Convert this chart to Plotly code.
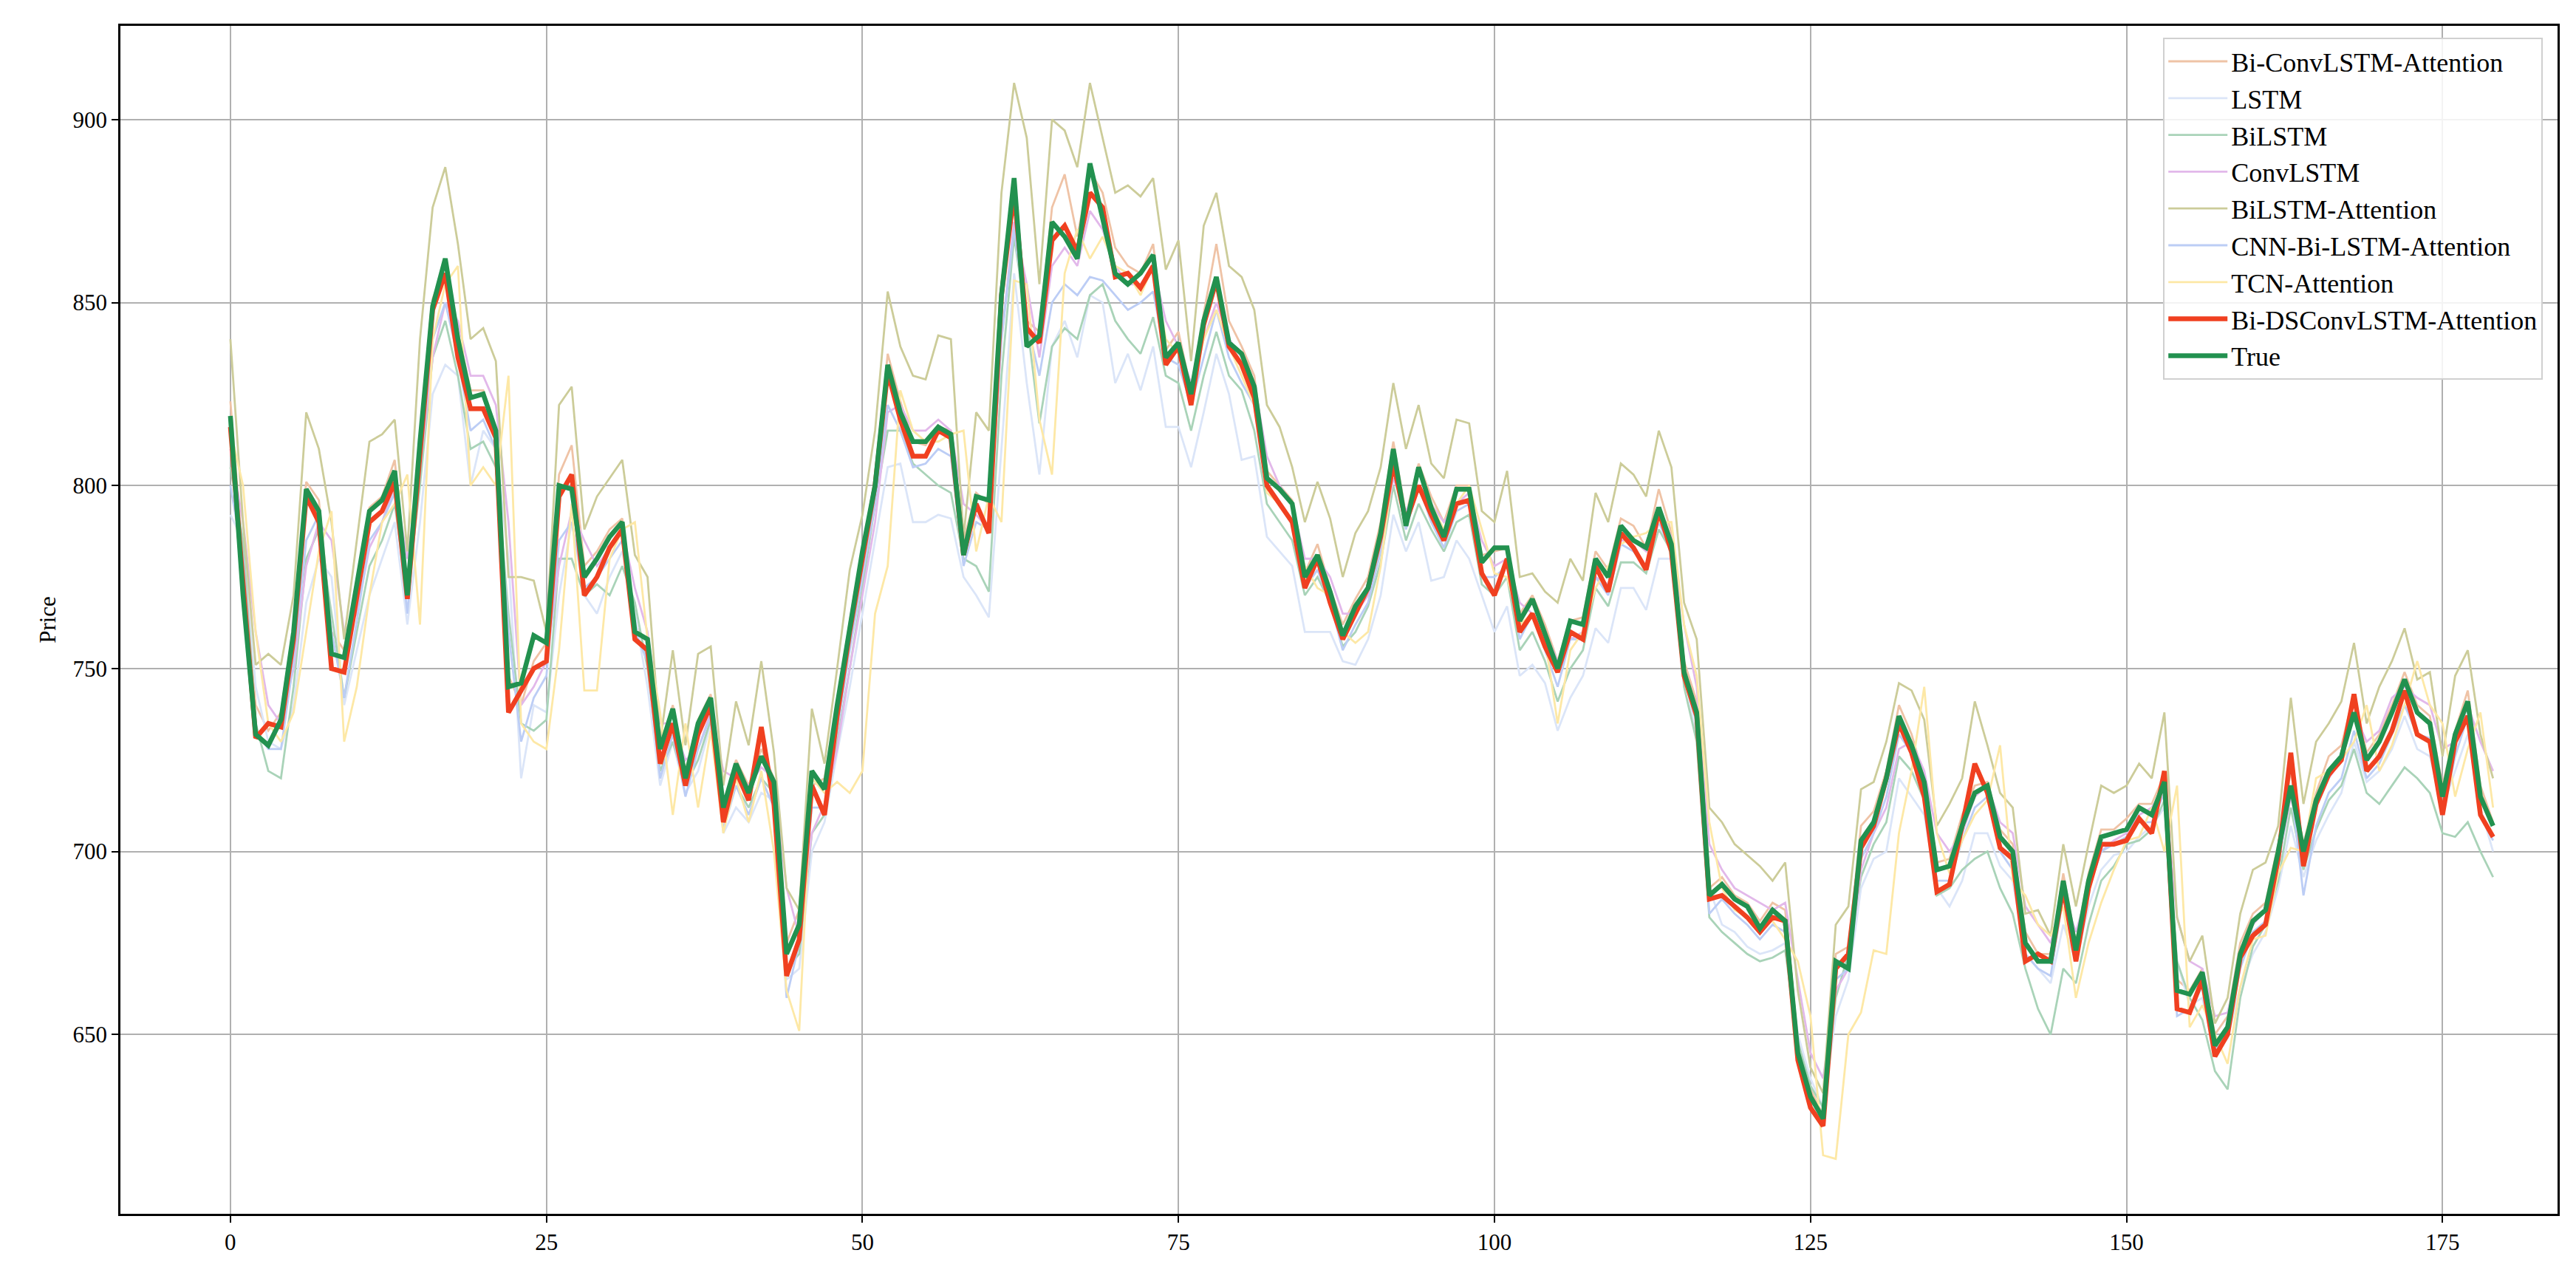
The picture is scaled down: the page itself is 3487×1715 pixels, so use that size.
import plotly.graph_objects as go

steps = list(range(180))

true_vals = [819,770,732,729,736,760,799,793,754,753,773,793,796,804,770,812,849,862,840,824,
             825,815,745,746,759,757,800,799,775,780,786,790,760,758,728,739,720,735,742,712,
             724,716,726,719,672,680,722,717,740,762,782,800,833,820,812,812,816,814,781,797,
             796,852,884,838,841,872,868,862,888,873,858,855,858,863,835,839,825,845,857,839,
             836,827,802,799,795,775,781,771,759,767,772,787,810,789,805,794,786,799,799,779,
             783,783,763,769,759,750,763,762,780,775,789,785,783,794,784,749,738,688,691,687,
             685,679,684,681,645,633,627,670,668,703,708,720,737,729,719,695,696,707,716,718,
             704,700,675,670,670,692,673,692,704,705,706,712,710,719,662,661,667,647,652,672,
             681,684,700,718,700,714,722,726,738,725,730,738,747,738,735,715,732,741,715,707]

bids_vals = [816,772,731,735,734,758,797,790,750,749,770,790,793,801,769,808,848,858,835,821,
             821,813,738,744,750,752,797,803,770,775,783,788,758,755,724,735,718,732,740,708,
             722,714,734,713,666,676,718,710,737,760,780,800,831,818,808,808,815,813,781,795,
             787,852,880,843,839,867,871,864,880,876,857,858,854,860,833,838,822,844,856,838,
             833,824,800,795,790,772,780,768,758,765,772,786,806,790,800,792,785,795,796,776,
             770,780,760,765,756,749,760,758,778,771,787,783,777,793,782,748,737,687,688,685,
             682,678,682,681,643,630,625,668,672,701,707,720,735,727,715,689,691,707,724,716,
             701,698,670,672,670,690,670,690,702,702,703,709,705,722,657,656,665,644,650,671,
             677,680,698,727,696,713,721,725,743,722,726,733,744,732,730,710,730,737,710,704]

biconv_attn = [823,780,740,733,738,762,801,796,760,755,774,794,797,807,772,813,851,860,842,826,
               826,815,748,740,752,757,803,811,778,782,788,791,762,757,728,740,722,736,743,712,
               725,718,728,720,675,684,718,720,741,763,783,801,836,823,812,811,816,815,785,798,
               795,855,882,845,842,876,885,868,886,880,865,860,858,866,837,842,826,847,866,845,
               838,830,804,800,796,776,784,772,762,769,775,790,812,792,806,797,790,800,800,781,
               782,783,765,770,762,752,763,764,782,777,791,789,783,799,787,752,741,690,693,688,
               686,681,686,684,648,635,628,672,674,707,711,722,740,732,720,697,698,710,718,719,
               706,702,678,672,672,694,675,694,706,706,709,713,713,721,665,662,668,650,655,675,
               683,686,702,722,702,716,726,729,743,727,732,740,749,740,737,718,733,744,718,708]

lstm = [792,785,745,730,728,740,768,780,775,740,755,770,780,790,762,790,825,833,830,800,
        815,810,780,720,740,738,770,790,770,765,775,782,765,745,718,730,716,722,735,705,
        712,708,716,714,665,668,700,708,727,745,765,785,805,806,790,790,792,791,775,770,
        764,810,858,828,803,838,845,835,852,850,828,836,826,838,816,816,805,820,836,825,
        807,808,786,782,778,760,760,760,752,751,758,770,792,782,790,774,775,785,780,770,
        760,767,748,751,746,733,742,748,761,757,772,772,766,780,780,750,730,690,680,678,
        674,672,673,675,650,638,630,655,665,690,698,700,720,715,710,690,685,692,705,705,
        696,692,672,668,664,680,670,685,695,699,700,704,707,712,670,658,660,645,649,663,
        672,678,690,707,693,703,710,716,730,719,722,728,737,728,726,712,722,732,712,700]

bilstm = [805,785,735,722,720,745,780,788,765,742,760,778,785,795,770,800,835,845,830,810,
          812,805,765,735,733,736,780,780,770,773,770,778,768,750,722,730,718,725,736,708,
          718,712,720,716,668,672,705,710,730,750,772,795,815,815,806,803,800,798,780,778,
          771,830,868,845,817,838,843,840,852,855,845,840,836,846,830,828,815,830,842,830,
          826,815,795,790,785,770,775,768,756,760,767,779,800,785,795,788,782,790,792,773,
          770,775,755,760,752,741,750,755,772,767,779,779,776,788,782,745,730,682,678,675,
          672,670,671,673,648,636,630,660,672,693,702,708,726,722,714,688,690,695,698,700,
          690,683,668,657,650,668,664,680,692,696,702,703,706,714,670,660,654,640,635,660,
          674,680,692,712,695,706,714,718,728,716,713,718,723,720,716,705,704,708,700,693]

convlstm = [810,790,760,740,735,750,778,790,785,760,765,783,790,800,780,805,835,850,845,830,
            830,822,790,740,745,752,778,793,785,778,783,788,772,760,735,735,725,728,738,722,
            720,718,723,720,690,677,705,713,728,750,770,790,820,822,815,815,818,815,795,792,
            788,840,872,855,835,860,865,860,875,870,860,855,855,860,845,838,828,840,850,840,
            835,828,808,800,795,780,780,775,765,765,770,783,802,793,800,795,790,795,798,785,
            778,780,768,765,760,752,758,760,775,773,785,785,782,792,786,762,745,702,695,690,
            688,686,684,686,665,645,638,662,668,695,705,712,728,730,722,705,700,705,715,718,
            708,705,685,680,675,688,678,690,700,703,705,710,712,717,682,670,668,655,656,670,
            680,684,697,715,700,712,720,725,738,730,733,742,745,742,740,728,730,740,730,722]

bilstm_attn = [840,790,751,754,751,770,820,810,790,758,785,812,814,818,782,840,876,887,866,840,
               843,834,775,775,774,760,822,827,788,797,802,807,781,775,730,755,729,754,756,718,
               741,729,752,727,690,684,739,724,750,777,792,815,853,838,830,829,841,840,786,820,
               815,880,910,895,855,900,897,887,910,895,880,882,879,884,859,867,834,871,880,860,
               857,848,822,816,805,790,801,791,775,787,793,805,828,810,822,806,802,818,817,793,
               790,804,775,776,771,768,780,774,798,790,806,803,797,815,805,768,758,712,708,702,
               699,696,692,697,662,641,634,680,685,717,719,730,746,744,736,707,713,720,741,729,
               716,712,683,684,677,702,685,702,718,716,718,724,720,738,682,670,677,653,660,683,
               695,697,707,742,713,730,735,741,757,735,745,752,761,747,749,726,748,755,732,720]

cnn_bilstm_attn = [800,780,733,728,728,752,785,792,760,742,763,785,790,798,765,805,840,850,835,815,
                   818,810,760,730,742,748,785,790,772,775,780,785,760,752,720,732,715,728,737,706,
                   718,710,720,712,660,675,712,712,733,755,775,795,822,815,805,806,810,808,778,790,
                   788,840,870,845,830,850,855,852,857,856,852,848,850,853,835,833,822,835,848,835,
                   828,822,800,795,790,772,777,768,755,762,768,782,805,788,800,790,783,793,795,775,
                   775,778,758,765,755,745,758,758,775,770,784,782,778,790,782,748,735,683,687,683,
                   680,676,680,678,645,633,628,665,668,698,705,715,732,727,716,692,692,703,712,715,
                   700,695,672,668,666,688,672,690,700,702,704,708,708,716,655,657,663,646,650,668,
                   678,681,696,718,688,707,716,720,733,720,724,732,740,732,731,710,726,737,710,703]

tcn_attn = [815,800,760,735,730,738,760,782,793,730,745,770,790,795,803,762,840,855,860,800,
            805,800,830,735,730,728,755,795,744,744,780,788,790,758,738,710,735,712,733,705,
            720,708,722,700,662,651,720,716,719,716,722,765,778,826,815,812,812,814,815,782,
            797,790,856,855,818,803,858,870,862,868,860,858,852,860,840,836,825,840,848,838,
            830,822,798,795,790,778,772,770,760,757,760,778,805,790,800,795,788,795,800,788,
            776,775,762,765,758,735,755,760,772,778,784,786,787,790,790,762,748,708,690,684,
            682,680,681,676,670,655,617,616,650,656,673,672,705,722,745,705,694,703,710,714,
            729,692,688,680,677,685,660,675,686,695,703,704,712,700,718,652,658,650,642,663,
            676,677,694,701,700,720,722,725,730,740,722,729,740,752,740,735,715,728,738,712]

thin_series = [
    ("Bi-ConvLSTM-Attention", biconv_attn, "#efc3a6"),
    ("LSTM", lstm, "#dbe5f8"),
    ("BiLSTM", bilstm, "#a9d3b8"),
    ("ConvLSTM", convlstm, "#e2b8ea"),
    ("BiLSTM-Attention", bilstm_attn, "#cccc99"),
    ("CNN-Bi-LSTM-Attention", cnn_bilstm_attn, "#bccdf5"),
    ("TCN-Attention", tcn_attn, "#fde8a6"),
]

fig = go.Figure()
for name, vals, color in thin_series:
    fig.add_trace(go.Scatter(x=steps, y=vals, mode="lines", name=name,
                             line=dict(color=color, width=2.8)))
fig.add_trace(go.Scatter(x=steps, y=bids_vals, mode="lines", name="Bi-DSConvLSTM-Attention",
                         line=dict(color="#f04020", width=6.5)))
fig.add_trace(go.Scatter(x=steps, y=true_vals, mode="lines", name="True",
                         line=dict(color="#22914f", width=6.5)))

axis_common = dict(showline=True, linecolor="black", linewidth=2.5, mirror=True,
                   showgrid=True, gridcolor="#b0b0b0", gridwidth=2.4, zeroline=False,
                   ticks="outside", ticklen=9, tickwidth=2, tickcolor="black",
                   tickfont=dict(family="Liberation Serif", size=31, color="black"))

fig.update_xaxes(range=[-8.7, 184.1], tickvals=[0, 25, 50, 75, 100, 125, 150, 175], **axis_common)
fig.update_yaxes(range=[601, 925.6], tickvals=[650, 700, 750, 800, 850, 900],
                 title=dict(text="Price", font=dict(family="Liberation Serif", size=31, color="black"),
                            standoff=14),
                 **axis_common)

fig.update_layout(
    width=3487, height=1715,
    plot_bgcolor="white", paper_bgcolor="white",
    margin=dict(l=155, r=33, t=27, b=80),
    font=dict(family="Liberation Serif", color="black"),
    legend=dict(x=0.994, xanchor="right", y=0.99, yanchor="top",
                bgcolor="rgba(255,255,255,0.85)", bordercolor="#d0d0d0", borderwidth=2,
                font=dict(family="Liberation Serif", size=36, color="black"),
                tracegroupgap=0, itemwidth=80),
    showlegend=True,
)

fig.write_html("out.html")
